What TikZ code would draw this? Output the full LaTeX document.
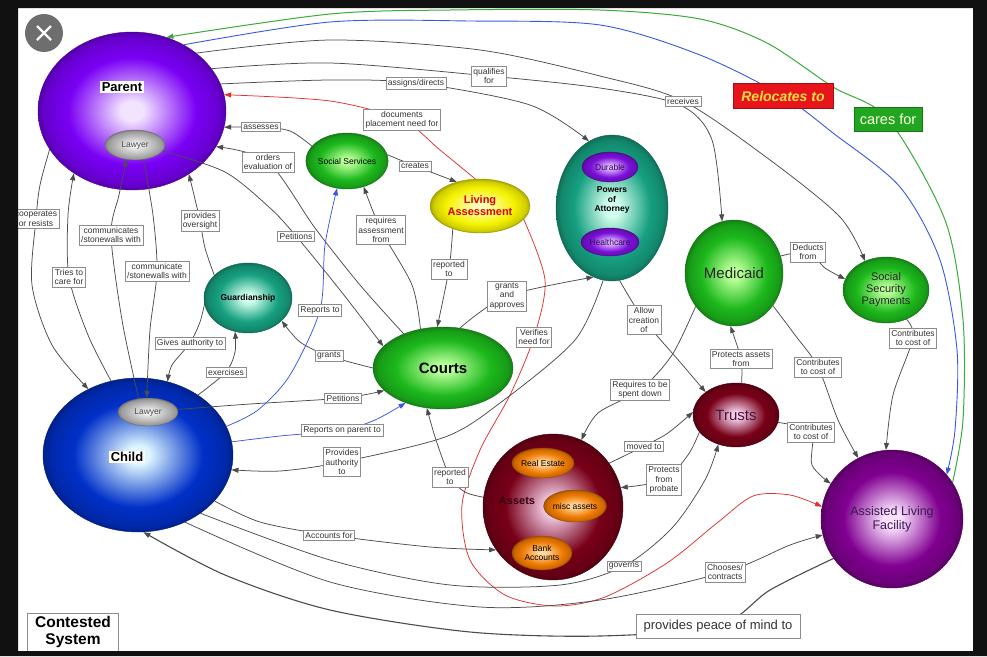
\documentclass[tikz,border=0pt]{standalone}
\usepackage{fontspec}
\setmainfont{Liberation Sans}
\usetikzlibrary{shapes.geometric,arrows.meta}
\pgfdeclarelayer{bg}
\pgfdeclarelayer{edges}
\pgfdeclarelayer{over}
\pgfdeclarelayer{labels}
\pgfdeclarelayer{frame}
\pgfsetlayers{bg,edges,main,over,labels,frame}
\newcommand{\lblfont}{\fontsize{8.5}{9.5}\selectfont}
\colorlet{blobin}{white}
\colorlet{blobout}{gray}
\pgfdeclareradialshading[blobin,blobout]{glow}{\pgfpoint{0bp}{0bp}}{color(0bp)=(blobin); color(3bp)=(blobin); color(17bp)=(blobout); color(23bp)=(blobout!85!black); color(25bp)=(blobout!70!black); color(50bp)=(blobout!70!black)}
\definecolor{frameblack}{HTML}{111111}
\definecolor{closegray}{HTML}{6E6E6E}
\definecolor{parentout}{HTML}{7A00F5}
\definecolor{parentin}{HTML}{F2E4FF}
\definecolor{childout}{HTML}{0030C8}
\definecolor{childin}{HTML}{DDF6FF}
\definecolor{greenout}{HTML}{1CB81C}
\definecolor{greenin}{HTML}{B8FF98}
\definecolor{tealout}{HTML}{16A080}
\definecolor{tealin}{HTML}{D4FFEE}
\definecolor{yellowout}{HTML}{F4F200}
\definecolor{yellowin}{HTML}{FFFFB8}
\definecolor{grayout}{HTML}{B4B4B4}
\definecolor{grayin}{HTML}{F2F2F2}
\definecolor{purpleout}{HTML}{7A10D8}
\definecolor{purplein}{HTML}{E2BCFF}
\definecolor{maroonout}{HTML}{780018}
\definecolor{maroonin}{HTML}{F2CCE6}
\definecolor{orangeout}{HTML}{EE7A00}
\definecolor{orangein}{HTML}{FFD8A0}
\definecolor{alfout}{HTML}{800090}
\definecolor{alfin}{HTML}{FAE2FF}
\definecolor{trusttext}{HTML}{4A1442}
\definecolor{assetstext}{HTML}{3A0012}
\definecolor{alftext}{HTML}{3A1A50}
\definecolor{linkred}{HTML}{E03030}
\definecolor{relblue}{HTML}{3A58E0}
\definecolor{caregreen}{HTML}{3AAA3A}
\definecolor{relocred}{HTML}{E8141C}
\definecolor{relocyellow}{HTML}{FFE040}
\definecolor{caresbox}{HTML}{22A622}
\begin{document}
\begin{tikzpicture}[x=1pt,y=-1pt,
  blob/.style 2 args={ellipse,inner sep=0pt,/utils/exec={\colorlet{blobin}{#1}\colorlet{blobout}{#2}},shading=glow,draw=#2!60!black,line width=0.4pt},
  phrase/.style={draw=black!45,line width=0.5pt,fill=white,inner sep=2pt,align=center,text=black!80,font=\lblfont},
  link/.style={draw=black!70,line width=0.75pt},
  arrowlink/.style={link,-{Triangle[length=7pt,width=5pt]}}]
% Rahmen
\useasboundingbox (0,0) rectangle (987,656);
\begin{pgfonlayer}{bg}
\fill[white] (0,0) rectangle (987,656);
\end{pgfonlayer}

% Knoten
\node[blob={parentin}{parentout},minimum width=188pt,minimum height=158pt] (parent) at (132,111) {};
\node[fill=white,inner sep=1.5pt,font=\bfseries\fontsize{13}{15}\selectfont] (parenttext) at (122,87) {Parent};
\node[blob={grayin}{grayout},minimum width=60pt,minimum height=30pt,font=\lblfont,text=black!70] (parentlawyer) at (135,145) {Lawyer};
\node[blob={childin}{childout},minimum width=190pt,minimum height=154pt] (child) at (138,455) {};
\node[fill=white,inner sep=1.5pt,font=\bfseries\fontsize{13}{15}\selectfont] (childtext) at (127,457) {Child};
\node[blob={grayin}{grayout},minimum width=60pt,minimum height=28pt,font=\lblfont,text=black!70] (childlawyer) at (148,412) {Lawyer};
\node[blob={greenin}{greenout},minimum width=80pt,minimum height=56pt,font=\lblfont] (socialservices) at (347,161) {Social Services};
\node[blob={yellowin}{yellowout},minimum width=100pt,minimum height=54pt,align=center,text=red!85!black,font=\bfseries\fontsize{11}{12}\selectfont] (livingassessment) at (480,206) {Living\\Assessment};
\node[blob={tealin}{tealout},minimum width=112pt,minimum height=146pt] (powersofattorney) at (612,208) {};
\node[align=center,font=\bfseries\lblfont] (poatext) at (612,200) {Powers\\of\\Attorney};
\node[blob={purplein}{purpleout},minimum width=56pt,minimum height=30pt,font=\lblfont,text=purpleout!40!black] (durable) at (610,167) {Durable};
\node[blob={purplein}{purpleout},minimum width=56pt,minimum height=28pt,font=\lblfont,text=purpleout!40!black] (healthcare) at (610,242) {Healthcare};
\node[blob={greenin}{greenout},minimum width=98pt,minimum height=106pt,font=\fontsize{15}{17}\selectfont,text=black!85] (medicaid) at (734,273) {Medicaid};
\node[blob={greenin}{greenout},minimum width=86pt,minimum height=66pt,align=center,font=\fontsize{11}{12}\selectfont,text=black!85] (socialsecurity) at (886,290) {Social\\Security\\Payments};
\node[blob={tealin}{tealout},minimum width=88pt,minimum height=70pt,font=\bfseries\lblfont] (guardianship) at (248,298) {Guardianship};
\node[blob={greenin}{greenout},minimum width=140pt,minimum height=82pt,font=\bfseries\fontsize{15}{17}\selectfont] (courts) at (443,368) {Courts};
\node[blob={maroonin}{maroonout},minimum width=86pt,minimum height=64pt,font=\fontsize{15}{17}\selectfont,text=trusttext] (trusts) at (736,415) {Trusts};
\node[blob={maroonin}{maroonout},minimum width=140pt,minimum height=146pt] (assets) at (553,507) {};
\node[font=\bfseries\fontsize{11}{13}\selectfont,text=assetstext] (assetstitle) at (517,501) {Assets};
\node[blob={orangein}{orangeout},minimum width=60pt,minimum height=30pt,font=\lblfont] (realestate) at (543,463) {Real Estate};
\node[blob={orangein}{orangeout},minimum width=60pt,minimum height=32pt,font=\lblfont] (miscassets) at (575,506) {misc assets};
\node[blob={orangein}{orangeout},minimum width=60pt,minimum height=34pt,align=center,font=\lblfont] (bankaccounts) at (542,553) {Bank\\Accounts};
\node[blob={alfin}{alfout},minimum width=142pt,minimum height=138pt,align=center,font=\fontsize{12.5}{14}\selectfont,text=alftext] (assistedliving) at (892,519) {Assisted Living\\Facility};

% Beschriftungen
\begin{pgfonlayer}{labels}
\node[phrase] (assesses) at (261,127) {assesses};
\node[phrase] (ordersevaluation) at (268,162) {orders\\evaluation of};
\node[phrase] (cooperates) at (36,219) {cooperates\\or resists};
\node[phrase] (communicates) at (111,235) {communicates\\/stonewalls with};
\node[phrase] (triestocare) at (69,277) {Tries to\\care for};
\node[phrase] (communicatestone) at (157,271) {communicate\\/stonewalls with};
\node[phrase] (providesoversight) at (200,221) {provides\\oversight};
\node[phrase] (petitionsupper) at (296,236) {Petitions};
\node[phrase] (givesauthority) at (190,343) {Gives authority to};
\node[phrase] (exercises) at (226,372) {exercises};
\node[phrase] (reportsto) at (320,310) {Reports to};
\node[phrase] (grants) at (329,356) {grants};
\node[phrase] (petitionslower) at (343,398) {Petitions};
\node[phrase] (reportsonparent) at (342,430) {Reports on parent to};
\node[phrase] (providesauthority) at (342,462) {Provides\\authority\\to};
\node[phrase] (accountsfor) at (329,535) {Accounts for};
\node[phrase] (requiresassessment) at (381,230) {requires\\assessment\\from};
\node[phrase] (reportedtoupper) at (449,269) {reported\\to};
\node[phrase] (grantsapproves) at (507,296) {grants\\and\\approves};
\node[phrase] (verifies) at (534,337) {Verifies\\need for};
\node[phrase] (documents) at (402,120) {documents\\placement need for};
\node[phrase] (creates) at (415,166) {creates};
\node[phrase] (assignsdirects) at (416,83) {assigns/directs};
\node[phrase] (qualifiesfor) at (489,76) {qualifies\\for};
\node[phrase] (receives) at (683,101) {receives};
\node[phrase] (allowcreation) at (644,320) {Allow\\creation\\of};
\node[phrase] (deductsfrom) at (808,252) {Deducts\\from};
\node[phrase] (contribssp) at (913,338) {Contributes\\to cost of};
\node[phrase] (protectsassets) at (741,359) {Protects assets\\from};
\node[phrase] (contribmedicaid) at (818,367) {Contributes\\to cost of};
\node[phrase] (requiresspent) at (640,390) {Requires to be\\spent down};
\node[phrase] (contribtrusts) at (811,432) {Contributes\\to cost of};
\node[phrase] (movedto) at (644,446) {moved to};
\node[phrase] (protectsprobate) at (664,480) {Protects\\from\\probate};
\node[phrase] (governs) at (624,566) {governs};
\node[phrase] (choosescontracts) at (725,572) {Chooses/\\contracts};
\node[phrase] (reportedtolower) at (450,477) {reported\\to};
\node[phrase,font=\fontsize{13}{15}\selectfont,minimum width=164pt,minimum height=24pt] (peacebox) at (718,626) {provides peace of mind to};
\node[fill=relocred,draw=relocred!70!black,minimum width=100pt,minimum height=25pt,text=relocyellow,font=\bfseries\itshape\fontsize{14}{16}\selectfont] (relocatesto) at (783,96) {Relocates to};
\node[fill=caresbox,draw=caresbox!70!black,minimum width=68pt,minimum height=24pt,text=white!88!yellow,font=\fontsize{14.5}{16}\selectfont] (caresfor) at (888,119) {cares for};
\node[draw=black!45,fill=white,align=center,minimum width=91pt,inner sep=3pt,font=\bfseries\fontsize{15.5}{17}\selectfont] (contested) at (73,632) {Contested\\System};
\end{pgfonlayer}

% Verbindungen
\begin{pgfonlayer}{edges}
\draw[arrowlink,draw=caregreen,line width=1pt] plot[smooth] coordinates {(assistedliving.31) (963,420) (963,320) (945,220) (caresfor) (833,87) (767,43) (700,19) (600,10) (450,10) (330,14) (parent.65)};
\draw[arrowlink,draw=relblue,line width=0.9pt] plot[smooth] coordinates {(parent.52) (330,22) (470,21) (600,25) (700,55) (relocatesto) (833,133) (900,187) (940,260) (957,350) (955,430) (assistedliving.39)};
\draw[arrowlink] plot[smooth] coordinates {(parent.42) (330,40) (480,50) (600,76) (receives) (770,160) (840,217) (socialsecurity.126)};
\draw[arrowlink] plot[smooth] coordinates {(parent.28) (330,63) (qualifiesfor) (600,88) (680,105) (712,140) (medicaid.103)};
\draw[arrowlink] plot[smooth] coordinates {(parent.17) (330,80) (assignsdirects) (530,105) (powersofattorney.109)};
\draw[arrowlink,draw=linkred] plot[smooth] coordinates {(livingassessment.100) (440,150) (documents) (330,101) (parent.10)};
\draw[arrowlink,draw=linkred] plot[smooth] coordinates {(livingassessment.-17) (545,280) (verifies) (510,395) (480,450) (462,505) (470,560) (505,595) (555,606) (605,597) (667,563) (717,523) (753,496) (790,495) (assistedliving.170)};
\draw[arrowlink] plot[smooth] coordinates {(socialservices.157) (290,131) (assesses) (parent.-10)};
\draw[arrowlink] plot[smooth] coordinates {(courts.139) (360,285) (315,228) (ordersevaluation) (parent.-23)};
\draw[arrowlink] plot[smooth] coordinates {(courts.120) (412,285) (requiresassessment) (socialservices.-57)};
\draw[arrowlink,draw=relblue] plot[smooth] coordinates {(child.18) (258,410) (290,375) (reportsto) (325,245) (socialservices.-110)};
\draw[arrowlink,draw=relblue] plot[smooth] coordinates {(child.8) (280,436) (reportsonparent) (375,420) (courts.-137)};
\draw[arrowlink] plot[smooth] coordinates {(courts.180) (grants) (300,342) (guardianship.-34)};
\draw[arrowlink] plot[smooth] coordinates {(powersofattorney.-97) (575,340) (500,403) (445,437) (providesauthority) (280,471) (child.-9)};
\draw[arrowlink] plot[smooth] coordinates {(courts.67) (grantsapproves) (powersofattorney.-105)};
\draw[arrowlink] plot[smooth] coordinates {(livingassessment.-140) (reportedtoupper) (courts.98)};
\draw[arrowlink] plot[smooth] coordinates {(assets.172) (465,492) (reportedtolower) (436,440) (courts.-112)};
\draw[arrowlink] plot[smooth] coordinates {(child.-31) (260,522) (accountsfor) (430,547) (assets.-143)};
\draw[arrowlink] plot[smooth] coordinates {(child.-43) (330,560) (450,585) (560,585) (governs) (672,528) (705,480) (trusts.-121)};
\draw[arrowlink] plot[smooth] coordinates {(child.-55) (330,582) (480,607) (600,600) (choosescontracts) (790,545) (assistedliving.-167)};
\draw[arrowlink,line width=1.1pt] plot[smooth] coordinates {(assistedliving.-146) (770,590) (peacebox) (600,636) (470,632) (330,610) (225,575) (child.-86)};
\draw[arrowlink] plot[smooth] coordinates {(assets.38) (620,458) (movedto) (668,433) (trusts.176)};
\draw[arrowlink] plot[smooth] coordinates {(trusts.-155) (688,455) (protectsprobate) (assets.16)};
\draw[arrowlink] plot[smooth] coordinates {(medicaid.-139) (672,355) (requiresspent) (598,413) (assets.67)};
\draw[arrowlink] plot[smooth] coordinates {(powersofattorney.-84) (allowcreation) (680,362) (trusts.143)};
\draw[arrowlink] plot[smooth] coordinates {(trusts.80) (protectsassets) (medicaid.-94)};
\draw[arrowlink] plot[smooth] coordinates {(medicaid.20) (deductsfrom) (825,268) (socialsecurity.165)};
\draw[arrowlink] plot[smooth] coordinates {(medicaid.-40) (795,335) (contribmedicaid) (838,420) (assistedliving.119)};
\draw[arrowlink] plot[smooth] coordinates {(socialsecurity.-55) (contribssp) (893,395) (assistedliving.95)};
\draw[arrowlink] plot[smooth] coordinates {(trusts.-10) (contribtrusts) (812,465) (assistedliving.150)};
\draw[arrowlink] plot[smooth] coordinates {(socialservices.9) (creates) (livingassessment.134)};
\draw[arrowlink] plot[smooth] coordinates {(parent.-155) (40,185) (cooperates) (32,285) (52,345) (child.127)};
\draw[arrowlink] plot[smooth] coordinates {(child.110) (88,335) (triestocare) (68,215) (parent.-133)};
\draw[arrowlink] plot[smooth] coordinates {(guardianship.146) (205,248) (providesoversight) (194,195) (parent.-48)};
\draw[arrowlink] plot[smooth] coordinates {(guardianship.-172) (200,322) (givesauthority) (172,365) (child.68)};
\draw[arrowlink] plot[smooth] coordinates {(child.45) (exercises) (235,352) (guardianship.-111)};
\end{pgfonlayer}

% Anwalt
\begin{pgfonlayer}{over}
\draw[arrowlink] plot[smooth] coordinates {(childlawyer.125) (122,320) (communicates) (119,195) (parentlawyer.-120)};
\draw[arrowlink] plot[smooth] coordinates {(parentlawyer.-60) (153,215) (communicatestone) (150,330) (childlawyer.95)};
\draw[arrowlink] plot[smooth] coordinates {(parentlawyer.-12) (225,172) (270,208) (petitionsupper) (340,290) (courts.160)};
\draw[arrowlink] plot[smooth] coordinates {(childlawyer.5) (250,404) (petitionslower) (courts.-159)};
\end{pgfonlayer}

% Bildschirm
\begin{pgfonlayer}{frame}
\fill[frameblack,even odd rule] (0,0) rectangle (987,656) (18,8) rectangle (973,651);
\fill[closegray] (44,33) circle (19pt);
\draw[white,line width=2.2pt] (37,26) -- (51,40) (51,26) -- (37,40);
\end{pgfonlayer}
\end{tikzpicture}
\end{document}
